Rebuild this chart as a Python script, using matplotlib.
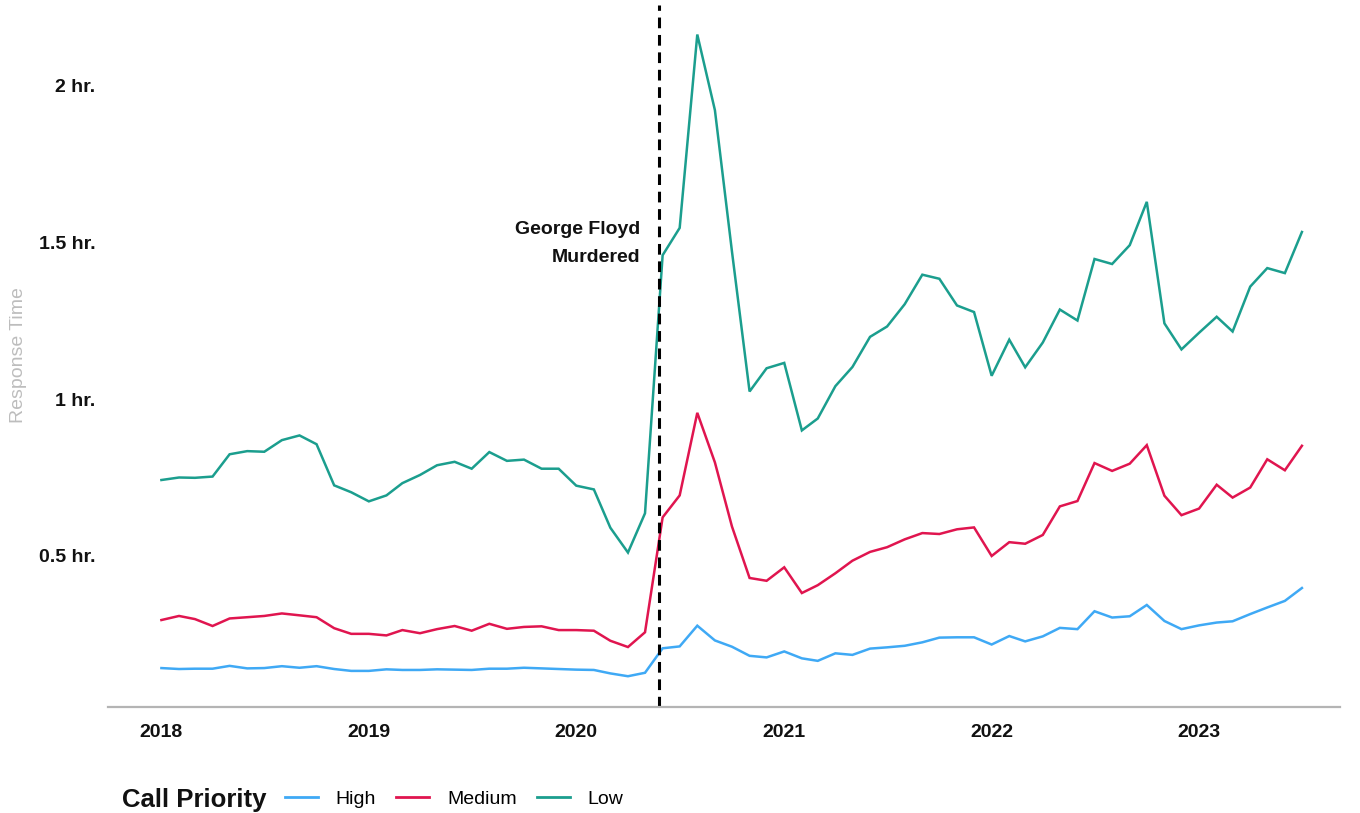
import matplotlib
matplotlib.use("Agg")
import matplotlib.pyplot as plt
import matplotlib.dates as mdates
import pandas as pd
from matplotlib.lines import Line2D

plt.rcParams['font.family'] = ['Liberation Sans', 'DejaVu Sans']

# ---------------- data (hours) ----------------
months = pd.date_range("2018-01-01", "2023-07-01", freq="MS")

high = [0.143, 0.140, 0.141, 0.141, 0.150, 0.142, 0.143, 0.149, 0.144, 0.149, 0.140, 0.134,
        0.134, 0.139, 0.137, 0.137, 0.139, 0.138, 0.137, 0.141, 0.141, 0.144, 0.142, 0.140,
        0.138, 0.137, 0.126, 0.117, 0.128, 0.206, 0.212, 0.278, 0.231, 0.211, 0.182, 0.177,
        0.196, 0.174, 0.166, 0.190, 0.185, 0.205, 0.209, 0.214, 0.225, 0.240, 0.241, 0.241,
        0.218, 0.245, 0.228, 0.244, 0.271, 0.267, 0.324, 0.304, 0.308, 0.344, 0.293, 0.267,
        0.279, 0.288, 0.292, 0.315, 0.336, 0.357, 0.398]

medium = [0.296, 0.309, 0.299, 0.277, 0.301, 0.305, 0.309, 0.317, 0.311, 0.305, 0.270, 0.252,
          0.252, 0.247, 0.264, 0.254, 0.267, 0.277, 0.262, 0.284, 0.268, 0.274, 0.276, 0.264,
          0.264, 0.262, 0.230, 0.210, 0.257, 0.623, 0.693, 0.956, 0.798, 0.594, 0.430, 0.421,
          0.464, 0.382, 0.407, 0.445, 0.485, 0.513, 0.528, 0.553, 0.573, 0.570, 0.585, 0.591,
          0.500, 0.544, 0.539, 0.567, 0.658, 0.675, 0.796, 0.771, 0.794, 0.853, 0.692, 0.630,
          0.651, 0.727, 0.686, 0.718, 0.808, 0.773, 0.851]

low = [0.742, 0.750, 0.749, 0.753, 0.824, 0.834, 0.832, 0.869, 0.884, 0.856, 0.725, 0.703,
       0.674, 0.693, 0.732, 0.758, 0.789, 0.800, 0.778, 0.831, 0.803, 0.807, 0.778, 0.778,
       0.724, 0.712, 0.590, 0.511, 0.636, 1.458, 1.545, 2.161, 1.920, 1.470, 1.024, 1.098,
       1.115, 0.900, 0.938, 1.041, 1.102, 1.198, 1.231, 1.302, 1.396, 1.383, 1.298, 1.277,
       1.074, 1.189, 1.101, 1.180, 1.285, 1.250, 1.446, 1.430, 1.490, 1.628, 1.241, 1.158,
       1.211, 1.262, 1.215, 1.358, 1.417, 1.401, 1.532]

series_names = ["High", "Medium", "Low"]
series_colors = ["#3fa9f5", "#e0154f", "#1b9e8e"]

ytick_vals = [0.5, 1.0, 1.5, 2.0]
ytick_labels = ["0.5 hr.", "1 hr.", "1.5 hr.", "2 hr."]
xtick_years = [2018, 2019, 2020, 2021, 2022, 2023]

event_date = pd.Timestamp("2020-05-25")
event_label = "George Floyd\nMurdered"

# ---------------- figure ----------------
fig = plt.figure(figsize=(13.6, 8.13), dpi=100)
ax = fig.add_axes([108/1360, 1 - 707/813, (1340-108)/1360, (707-5)/813])

for vals, name, col in zip([high, medium, low], series_names, series_colors):
    ax.plot(months, vals, color=col, lw=1.8, label=name, solid_joinstyle='miter')

ax.axvline(event_date, color='black', lw=2.2, ls=(0, (3.5, 2.2)))
ax.annotate(event_label, xy=(mdates.date2num(event_date), 1.495), xytext=(-13, 0),
            textcoords='offset points', ha='right', va='center',
            fontsize=14, fontweight='bold', linespacing=1.85, color='#111111')

ax.set_xlim(pd.Timestamp("2017-09-29"), pd.Timestamp("2023-09-06"))
ax.set_ylim(0.019, 2.255)

ax.set_yticks(ytick_vals)
ax.set_yticklabels(ytick_labels)
ax.set_xticks([pd.Timestamp(f"{y}-01-01") for y in xtick_years])
ax.set_xticklabels([str(y) for y in xtick_years])

for lab in ax.get_yticklabels() + ax.get_xticklabels():
    lab.set_fontweight('bold')
    lab.set_fontsize(14)
    lab.set_color('#111111')

ax.tick_params(axis='y', length=0, pad=9)
ax.tick_params(axis='x', length=0, pad=12)

for s in ['top', 'right', 'left']:
    ax.spines[s].set_visible(False)
ax.spines['bottom'].set_color('#b4b4b4')
ax.spines['bottom'].set_linewidth(1.6)
ax.grid(False)

fig.text(19/1360, 1 - 355/813, "Response Time", rotation=90, ha='center', va='center',
         fontsize=14, color='#bdbdbd')

# legend
fig.text(122/1360, 1 - 800/813, "Call Priority", ha='left', va='center',
         fontsize=18.5, fontweight='bold', color='#111111')
handles = [Line2D([0], [0], color=c, lw=2.0) for c in series_colors]
fig.legend(handles, series_names, loc='center left', bbox_to_anchor=(285/1360, 1 - 799/813),
           ncol=3, frameon=False, fontsize=14, handlelength=1.7, handletextpad=0.9,
           columnspacing=1.05, borderpad=0, borderaxespad=0)

fig.savefig("out.png", dpi=100)
